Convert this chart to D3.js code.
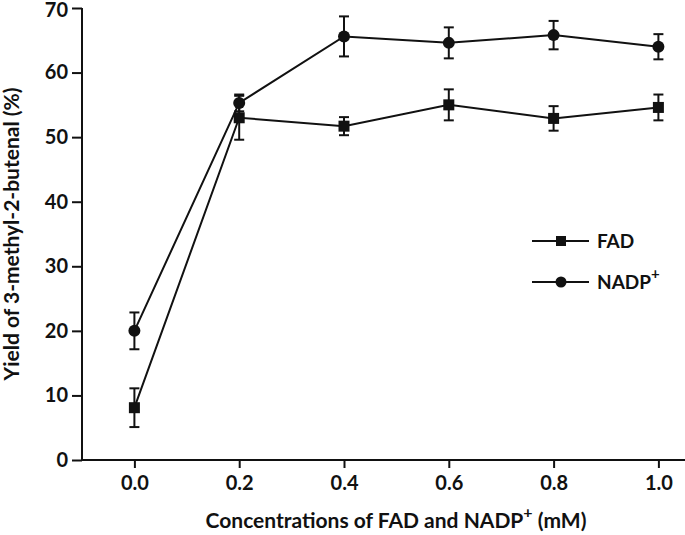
<!DOCTYPE html>
<html>
<head>
<meta charset="utf-8">
<script src="https://cdn.jsdelivr.net/npm/d3@7"></script>
<style>
  html, body { margin: 0; padding: 0; background: #fff; }
  svg { display: block; }
  text { font-family: Lato, "Open Sans", sans-serif; font-weight: bold; fill: #111; }
</style>
</head>
<body>
<script>
// ---- data ----
const concentrations = [0.0, 0.2, 0.4, 0.6, 0.8, 1.0];
const fadMean = [8.1, 53.0, 51.7, 55.0, 52.9, 54.6];
const fadErr  = [3.0, 3.4, 1.4, 2.4, 1.9, 2.0];
const nadpMean = [20.0, 55.3, 65.6, 64.6, 65.8, 64.0];
const nadpErr  = [2.85, 1.3, 3.1, 2.4, 2.2, 1.95];
const xTicks = [0.0, 0.2, 0.4, 0.6, 0.8, 1.0];
const yTicks = [0, 10, 20, 30, 40, 50, 60, 70];
const seriesNames = ["FAD", "NADP"];

const W = 685, H = 535;
const svg = d3.select("body").append("svg").attr("width", W).attr("height", H);

const x = d3.scaleLinear().domain([-0.1, 1.1]).range([82, 710.8]);
const y = d3.scaleLinear().domain([0, 70]).range([460, 8]);

// axes
const yAxis = svg.append("g").attr("transform", `translate(${x(-0.1)},0)`)
  .call(d3.axisLeft(y).tickValues(yTicks).tickSize(10).tickPadding(4).tickFormat(d3.format("d")));
const xAxis = svg.append("g").attr("transform", `translate(0,${y(0)})`)
  .call(d3.axisBottom(x).tickValues(xTicks).tickSize(8).tickPadding(8).tickFormat(d3.format(".1f")));
[yAxis, xAxis].forEach(g => {
  g.select(".domain").attr("stroke", "#111").attr("stroke-width", 2);
  g.selectAll(".tick line").attr("stroke", "#111").attr("stroke-width", 2);
  g.selectAll(".tick text").style("font-size", "20px").style("font-family", "Lato, sans-serif").style("font-weight", "bold").attr("fill", "#111");
});
yAxis.selectAll(".tick text").filter(d => d === 70).attr("dy", "0.4em");
yAxis.select(".domain").attr("d", `M0,${y(70)}V${y(0)}`);
xAxis.select(".domain").attr("d", `M${x(-0.1)},0H${x(1.1)}`);

// axis titles
svg.append("text")
  .attr("transform", `translate(19,${(y(0) + y(70)) / 2}) rotate(-90)`)
  .attr("text-anchor", "middle")
  .style("font-size", "21px")
  .text("Yield of 3-methyl-2-butenal (%)");

const xt = svg.append("text")
  .attr("x", 396).attr("y", 528)
  .attr("text-anchor", "middle")
  .style("font-size", "21px");
xt.append("tspan").text("Concentrations of FAD and NADP");
xt.append("tspan").attr("dy", -10).style("font-size", "16px").text("+");
xt.append("tspan").attr("dy", 10).text(" (mM)");

// series
function drawSeries(means, errs, shape) {
  const pts = concentrations.map((c, i) => ({c, m: means[i], e: errs[i]}));
  const g = svg.append("g");
  g.append("path").datum(pts)
    .attr("fill", "none").attr("stroke", "#111").attr("stroke-width", 2)
    .attr("d", d3.line().x(d => x(d.c)).y(d => y(d.m)));
  const eb = g.selectAll(".eb").data(pts).enter().append("g");
  eb.append("line").attr("x1", d => x(d.c)).attr("x2", d => x(d.c))
    .attr("y1", d => y(d.m + d.e)).attr("y2", d => y(d.m - d.e))
    .attr("stroke", "#111").attr("stroke-width", 2);
  [1, -1].forEach(s => {
    eb.append("line").attr("x1", d => x(d.c) - 5).attr("x2", d => x(d.c) + 5)
      .attr("y1", d => y(d.m + s * d.e)).attr("y2", d => y(d.m + s * d.e))
      .attr("stroke", "#111").attr("stroke-width", 2);
  });
  if (shape === "square") {
    g.selectAll(".mk").data(pts).enter().append("rect")
      .attr("x", d => x(d.c) - 5.5).attr("y", d => y(d.m) - 5.5)
      .attr("width", 11).attr("height", 11).attr("fill", "#111");
  } else {
    g.selectAll(".mk").data(pts).enter().append("circle")
      .attr("cx", d => x(d.c)).attr("cy", d => y(d.m)).attr("r", 6).attr("fill", "#111");
  }
}
drawSeries(fadMean, fadErr, "square");
drawSeries(nadpMean, nadpErr, "circle");

// legend
const leg = svg.append("g");
[{name: seriesNames[0], shape: "square", yy: 241}, {name: seriesNames[1], shape: "circle", yy: 282}].forEach(it => {
  leg.append("line").attr("x1", 532).attr("x2", 589).attr("y1", it.yy).attr("y2", it.yy)
    .attr("stroke", "#111").attr("stroke-width", 2);
  if (it.shape === "square") {
    leg.append("rect").attr("x", 561 - 5).attr("y", it.yy - 5).attr("width", 10).attr("height", 10).attr("fill", "#111");
  } else {
    leg.append("circle").attr("cx", 561).attr("cy", it.yy).attr("r", 5.5).attr("fill", "#111");
  }
  const t = leg.append("text").attr("x", 597).attr("y", it.yy + 7).style("font-size", "19px");
  t.append("tspan").text(it.name);
  if (it.name === "NADP") t.append("tspan").attr("dy", -10).style("font-size", "15px").text("+");
});
</script>
</body>
</html>
